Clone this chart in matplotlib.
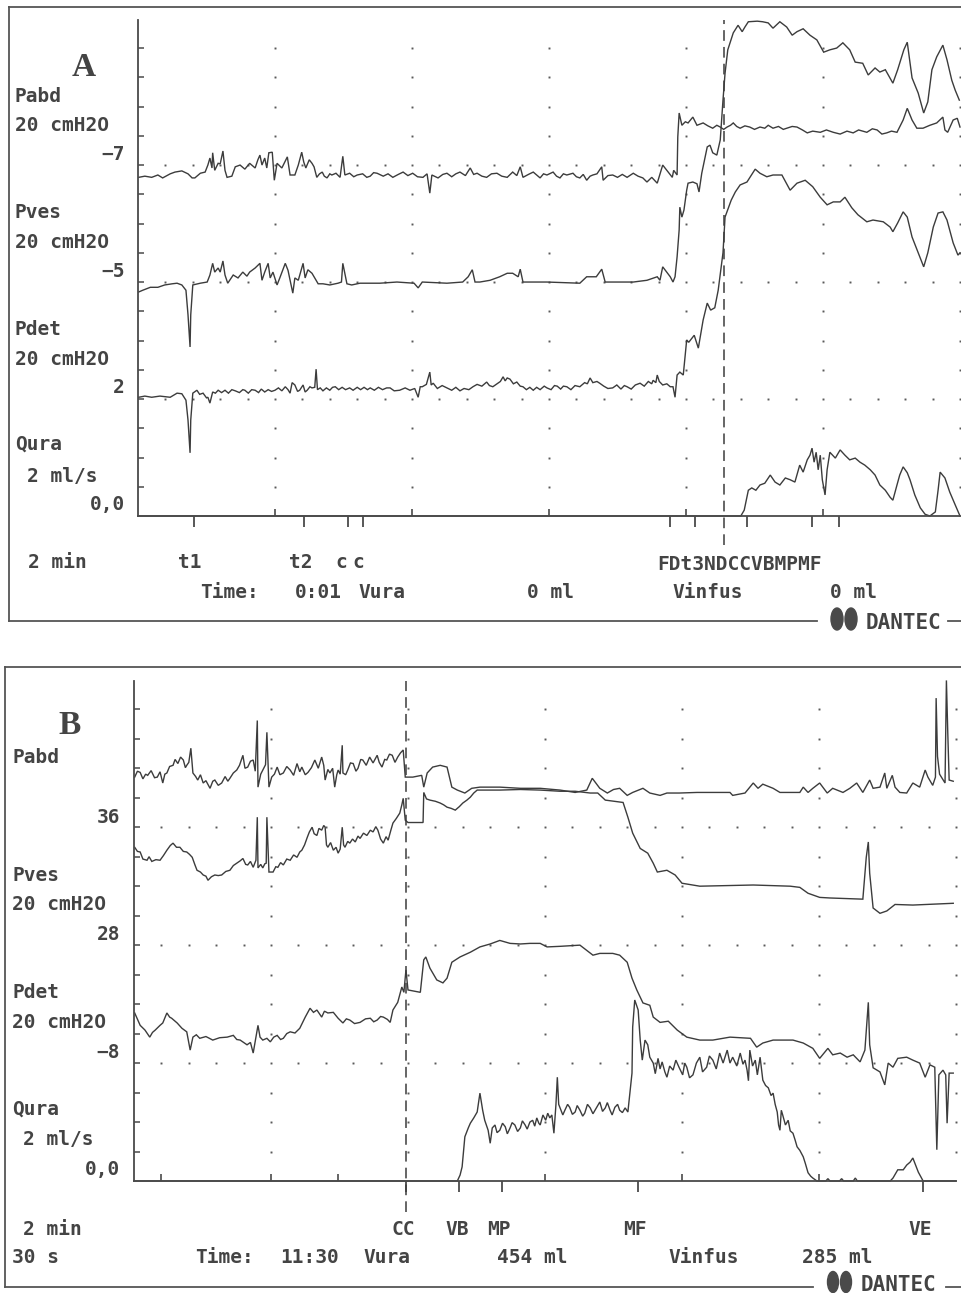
import numpy as np
import matplotlib.pyplot as plt
from matplotlib.lines import Line2D
from matplotlib.patches import Ellipse

plt.rcParams['font.family'] = ['DejaVu Sans Mono']

INK = '#3c3c3c'
TXT = '#444444'
W, H = 962, 1293

# ---------------- data, panel A (time in min, pressure cmH2O, flow ml/s)
a_pabd = [
    (0.01, -9.1), (0.10, -8.9), (0.20, -9.1), (0.29, -8.7), (0.36, -9.2), (0.47, -8.5),
    (0.54, -8.2), (0.64, -8.0), (0.73, -8.5), (0.79, -9.2), (0.83, -9.2), (0.91, -8.4),
    (0.98, -8.2), (1.02, -7.0), (1.05, -5.8), (1.08, -7.5), (1.09, -4.9), (1.12, -7.9),
    (1.17, -6.7), (1.20, -6.8), (1.24, -4.6), (1.27, -7.9), (1.30, -9.1), (1.37, -8.9),
    (1.42, -7.3), (1.49, -7.0), (1.56, -7.7), (1.63, -6.7), (1.71, -7.5), (1.75, -6.1),
    (1.78, -5.3), (1.81, -7.0), (1.85, -5.8), (1.88, -7.5), (1.91, -4.9), (1.96, -4.8),
    (1.99, -9.6), (2.03, -6.7), (2.10, -7.5), (2.18, -5.6), (2.22, -8.7), (2.29, -8.7),
    (2.34, -7.0), (2.39, -4.8), (2.42, -6.5), (2.45, -7.5), (2.50, -6.1), (2.54, -6.7),
    (2.57, -7.3), (2.61, -9.1), (2.65, -8.5), (2.69, -8.2), (2.72, -8.9), (2.76, -9.2),
    (2.80, -8.5), (2.83, -8.7), (2.89, -8.4), (2.95, -9.1), (2.99, -5.5), (3.02, -8.7),
    (3.09, -8.4), (3.15, -9.0), (3.20, -8.7), (3.28, -8.5), (3.34, -9.1), (3.39, -8.9),
    (3.44, -8.3), (3.49, -8.4), (3.58, -8.9), (3.65, -8.5), (3.72, -9.1), (3.80, -8.6),
    (3.87, -8.2), (3.94, -8.8), (4.01, -8.4), (4.08, -9.0), (4.16, -9.1), (4.22, -8.5),
    (4.26, -11.8), (4.29, -8.7), (4.38, -9.2), (4.45, -8.6), (4.51, -8.4), (4.58, -9.0),
    (4.64, -8.5), (4.70, -8.2), (4.78, -8.8), (4.85, -7.5), (4.90, -8.6), (4.95, -8.4),
    (5.02, -8.9), (5.09, -9.1), (5.16, -8.5), (5.24, -8.4), (5.31, -8.9), (5.39, -9.1),
    (5.47, -8.2), (5.53, -8.8), (5.58, -7.3), (5.62, -9.1), (5.70, -8.6), (5.77, -8.2),
    (5.87, -9.2), (5.92, -8.5), (5.97, -8.7), (6.06, -8.2), (6.11, -8.9), (6.16, -9.2),
    (6.21, -8.5), (6.26, -8.7), (6.35, -8.4), (6.40, -9.0), (6.45, -9.2), (6.50, -8.6),
    (6.55, -9.6), (6.60, -8.9), (6.64, -8.7), (6.70, -8.5), (6.77, -7.3), (6.79, -9.6),
    (6.86, -8.8), (6.93, -8.7), (7.00, -9.1), (7.07, -8.6), (7.14, -9.1), (7.23, -8.4),
    (7.30, -8.9), (7.37, -9.2), (7.43, -9.9), (7.50, -9.1), (7.58, -10.1), (7.66, -7.0),
    (7.72, -7.9), (7.80, -9.1), (7.82, -7.9), (7.87, -8.7), (7.88, -2.2), (7.90, 1.9),
    (7.94, -0.2), (7.99, 0.4), (8.03, 0.2), (8.10, 1.2), (8.16, -0.2), (8.25, 0.2),
    (8.32, -0.3), (8.39, -0.7), (8.45, -0.2), (8.50, -0.5), (8.55, -0.9), (8.60, -0.5),
    (8.65, -0.2), (8.69, 0.2), (8.74, -0.4), (8.79, -0.7), (8.86, -0.3), (8.93, -0.5),
    (9.00, -0.9), (9.08, -0.5), (9.15, -0.7), (9.20, -0.2), (9.27, -0.7), (9.35, -0.4),
    (9.42, -0.9), (9.47, -0.7), (9.55, -0.4), (9.62, -0.5), (9.70, -1.0), (9.77, -1.5),
    (9.85, -1.2), (9.96, -1.4), (10.05, -1.0), (10.15, -1.4), (10.25, -1.7), (10.35, -1.2),
    (10.44, -1.5), (10.52, -1.0), (10.64, -1.4), (10.72, -0.8), (10.79, -1.0), (10.86, -1.7),
    (10.93, -1.5), (11.00, -1.2), (11.08, -1.4), (11.17, 0.7), (11.23, 2.7), (11.30, 0.7),
    (11.37, -0.7), (11.46, -0.7), (11.56, -0.2), (11.66, 0.2), (11.75, 1.2), (11.78, -1.0),
    (11.82, -1.4), (11.90, 0.7), (11.96, 1.0), (12.00, -0.5),
]

a_pves = [
    (0.01, -6.7), (0.07, -6.4), (0.18, -5.9), (0.29, -5.9), (0.39, -5.5), (0.50, -5.3),
    (0.57, -5.2), (0.64, -5.5), (0.70, -6.4), (0.73, -10.6), (0.76, -16.1), (0.77, -10.6),
    (0.80, -5.5), (0.91, -5.2), (1.01, -5.0), (1.05, -3.8), (1.09, -1.8), (1.12, -3.3),
    (1.17, -2.6), (1.20, -3.3), (1.24, -1.4), (1.27, -3.8), (1.31, -5.2), (1.39, -3.8),
    (1.46, -4.3), (1.53, -3.3), (1.59, -4.0), (1.63, -3.3), (1.71, -2.6), (1.78, -1.8),
    (1.81, -4.7), (1.85, -3.3), (1.90, -1.8), (1.93, -4.3), (1.97, -3.3), (2.03, -5.5),
    (2.07, -4.3), (2.15, -1.8), (2.19, -3.0), (2.26, -6.9), (2.29, -4.3), (2.34, -4.7),
    (2.41, -1.8), (2.44, -4.3), (2.48, -2.9), (2.54, -3.5), (2.58, -4.3), (2.63, -5.3),
    (2.70, -5.3), (2.80, -5.5), (2.92, -5.2), (2.97, -5.0), (2.99, -1.8), (3.05, -5.3),
    (3.12, -5.5), (3.24, -5.2), (3.53, -5.2), (3.78, -5.0), (4.03, -5.2), (4.09, -6.0),
    (4.15, -5.0), (4.51, -5.2), (4.74, -5.0), (4.82, -4.1), (4.88, -2.9), (4.92, -5.0),
    (4.99, -5.0), (5.14, -4.7), (5.28, -4.1), (5.39, -3.5), (5.47, -3.5), (5.55, -4.1),
    (5.58, -2.8), (5.62, -5.0), (5.82, -5.0), (5.97, -5.0), (6.45, -5.2), (6.55, -4.1),
    (6.69, -4.1), (6.77, -2.8), (6.82, -5.0), (7.04, -5.0), (7.23, -5.0), (7.43, -4.7),
    (7.58, -4.1), (7.62, -4.7), (7.66, -2.4), (7.77, -4.1), (7.81, -5.0), (7.84, -4.1),
    (7.87, -0.7), (7.90, 3.9), (7.91, 7.8), (7.94, 6.1), (7.97, 7.3), (8.01, 10.7),
    (8.03, 11.9), (8.10, 12.1), (8.16, 11.8), (8.19, 10.4), (8.23, 13.6), (8.31, 18.1),
    (8.35, 18.4), (8.39, 17.1), (8.45, 16.7), (8.50, 19.3), (8.54, 26.1), (8.57, 30.7),
    (8.61, 34.7), (8.69, 37.6), (8.76, 38.9), (8.82, 37.8), (8.86, 38.6), (8.91, 39.5),
    (9.04, 39.6), (9.12, 39.5), (9.20, 39.3), (9.27, 38.4), (9.37, 39.5), (9.47, 38.6),
    (9.55, 37.2), (9.62, 37.8), (9.71, 38.3), (9.81, 37.2), (9.91, 36.4), (10.01, 34.3),
    (10.10, 34.7), (10.20, 35.0), (10.29, 35.9), (10.39, 34.7), (10.47, 32.6), (10.58, 32.4),
    (10.66, 30.4), (10.76, 31.6), (10.83, 30.9), (10.91, 31.3), (11.02, 29.0), (11.09, 31.3),
    (11.18, 34.7), (11.23, 36.0), (11.30, 29.9), (11.39, 27.3), (11.47, 23.9), (11.53, 25.8),
    (11.59, 31.3), (11.66, 33.5), (11.75, 35.5), (11.81, 33.0), (11.88, 29.5), (11.93, 27.8),
    (11.99, 26.1),
]

a_pdet = [
    (0.01, 2.3), (0.10, 2.5), (0.20, 2.3), (0.32, 2.5), (0.47, 2.3), (0.57, 3.0),
    (0.64, 2.9), (0.70, 1.8), (0.73, -1.6), (0.76, -7.2), (0.77, -1.6), (0.80, 3.0),
    (0.86, 3.5), (0.90, 2.8), (0.95, 3.0), (1.00, 2.2), (1.02, 2.3), (1.05, 1.3),
    (1.09, 3.2), (1.13, 3.0), (1.17, 3.5), (1.22, 3.1), (1.27, 3.5), (1.32, 3.0),
    (1.37, 3.6), (1.42, 3.4), (1.48, 3.1), (1.53, 3.6), (1.56, 3.5), (1.61, 3.0),
    (1.66, 3.6), (1.71, 3.5), (1.76, 3.1), (1.80, 3.7), (1.85, 3.2), (1.90, 3.6),
    (1.95, 3.3), (2.00, 3.5), (2.05, 3.9), (2.10, 3.4), (2.15, 4.1), (2.19, 3.6),
    (2.22, 3.0), (2.25, 4.8), (2.29, 4.4), (2.33, 3.3), (2.36, 3.5), (2.41, 4.4),
    (2.44, 3.2), (2.47, 3.5), (2.51, 4.1), (2.54, 3.9), (2.58, 4.0), (2.60, 7.1),
    (2.62, 3.6), (2.66, 3.9), (2.70, 3.4), (2.75, 3.9), (2.80, 3.5), (2.84, 4.0),
    (2.88, 4.1), (2.93, 3.6), (2.98, 4.0), (3.03, 3.6), (3.09, 3.9), (3.14, 3.5),
    (3.20, 4.0), (3.25, 3.6), (3.30, 4.0), (3.35, 3.6), (3.39, 3.9), (3.45, 3.5),
    (3.51, 4.0), (3.57, 3.6), (3.63, 3.9), (3.68, 3.9), (3.74, 3.4), (3.82, 3.5),
    (3.90, 3.9), (3.97, 3.5), (4.04, 3.8), (4.09, 2.3), (4.12, 4.1), (4.15, 4.1),
    (4.21, 4.5), (4.26, 6.6), (4.28, 4.4), (4.31, 4.7), (4.37, 3.8), (4.44, 4.3),
    (4.51, 3.9), (4.58, 3.5), (4.64, 4.0), (4.70, 3.4), (4.76, 3.8), (4.83, 3.6),
    (4.89, 4.1), (4.95, 4.5), (5.02, 4.2), (5.09, 4.9), (5.13, 4.3), (5.18, 4.1),
    (5.24, 4.6), (5.29, 5.0), (5.33, 5.8), (5.36, 5.1), (5.39, 5.6), (5.43, 5.4),
    (5.48, 4.6), (5.53, 4.9), (5.58, 4.2), (5.62, 4.1), (5.67, 3.6), (5.72, 4.0),
    (5.77, 3.5), (5.82, 4.0), (5.87, 3.6), (5.93, 4.2), (5.97, 3.9), (6.03, 3.6),
    (6.08, 4.3), (6.12, 4.2), (6.17, 3.7), (6.21, 4.2), (6.26, 4.1), (6.32, 3.6),
    (6.38, 4.3), (6.45, 4.1), (6.52, 4.8), (6.56, 4.6), (6.60, 5.6), (6.64, 4.8),
    (6.70, 5.0), (6.74, 4.7), (6.80, 4.2), (6.86, 3.8), (6.93, 3.9), (6.99, 4.4),
    (7.05, 3.7), (7.10, 4.3), (7.14, 4.1), (7.20, 3.7), (7.26, 4.4), (7.33, 4.7),
    (7.39, 4.2), (7.45, 5.0), (7.50, 4.6), (7.52, 5.2), (7.56, 4.8), (7.58, 6.1),
    (7.61, 5.0), (7.66, 4.4), (7.72, 4.6), (7.77, 4.1), (7.81, 4.1), (7.84, 2.3),
    (7.87, 6.1), (7.91, 6.6), (7.96, 6.1), (8.01, 12.1), (8.04, 11.7), (8.12, 12.9),
    (8.18, 10.7), (8.25, 15.5), (8.31, 18.4), (8.36, 17.2), (8.42, 17.6), (8.47, 20.6),
    (8.54, 27.0), (8.57, 33.1), (8.66, 36.0), (8.72, 37.4), (8.79, 38.6), (8.89, 39.1),
    (9.01, 41.3), (9.08, 40.6), (9.18, 40.0), (9.27, 40.3), (9.40, 40.3), (9.52, 37.7),
    (9.62, 38.9), (9.74, 39.4), (9.85, 38.3), (9.96, 36.5), (10.06, 35.2), (10.15, 35.7),
    (10.25, 35.7), (10.32, 36.5), (10.42, 34.7), (10.51, 33.5), (10.64, 32.3), (10.73, 32.6),
    (10.88, 32.3), (10.98, 31.4), (11.02, 30.6), (11.09, 32.1), (11.17, 34.0), (11.23, 33.1),
    (11.30, 29.7), (11.39, 27.0), (11.47, 24.6), (11.53, 27.0), (11.61, 31.4), (11.68, 33.8),
    (11.75, 34.0), (11.81, 32.6), (11.90, 28.7), (11.97, 26.6), (12.00, 27.0),
]

a_qura = [
    (0.00, 0.0), (8.80, 0.0), (8.85, 0.10), (8.91, 0.44), (8.96, 0.48), (9.02, 0.44),
    (9.08, 0.53), (9.15, 0.56), (9.23, 0.70), (9.30, 0.58), (9.37, 0.53), (9.45, 0.65),
    (9.52, 0.62), (9.59, 0.58), (9.66, 0.87), (9.71, 0.75), (9.77, 0.96), (9.81, 1.04),
    (9.84, 1.16), (9.87, 0.92), (9.90, 1.09), (9.93, 0.79), (9.96, 1.04), (9.99, 0.62),
    (10.03, 0.36), (10.06, 0.79), (10.10, 1.09), (10.18, 0.99), (10.25, 1.13), (10.32, 1.04),
    (10.39, 0.96), (10.47, 0.99), (10.54, 0.92), (10.61, 0.87), (10.69, 0.79), (10.76, 0.70),
    (10.83, 0.53), (10.91, 0.44), (10.98, 0.32), (11.02, 0.27), (11.08, 0.53), (11.12, 0.70),
    (11.17, 0.84), (11.23, 0.74), (11.27, 0.62), (11.34, 0.36), (11.42, 0.14), (11.49, 0.03),
    (11.56, 0.0), (11.64, 0.07), (11.68, 0.44), (11.71, 0.75), (11.78, 0.65), (11.85, 0.41),
    (11.93, 0.19), (12.00, 0.0),
]

# ---------------- data, panel B
b_pabd = [
    (0.01, 44.5), (0.05, 45.5), (0.09, 45.3), (0.13, 44.2), (0.17, 45.0), (0.20, 44.8),
    (0.25, 45.6), (0.30, 44.4), (0.34, 44.5), (0.38, 45.4), (0.42, 43.5), (0.45, 45.0),
    (0.48, 45.2), (0.52, 46.3), (0.57, 46.5), (0.60, 47.5), (0.64, 46.8), (0.68, 47.9),
    (0.72, 47.4), (0.75, 46.1), (0.77, 46.5), (0.80, 47.0), (0.83, 49.4), (0.86, 45.2),
    (0.90, 44.6), (0.93, 44.0), (0.97, 44.9), (1.01, 43.5), (1.05, 43.9), (1.11, 42.6),
    (1.15, 43.8), (1.18, 44.0), (1.23, 43.1), (1.28, 43.5), (1.33, 44.6), (1.37, 43.8),
    (1.40, 44.3), (1.45, 45.2), (1.50, 45.7), (1.54, 46.5), (1.59, 48.2), (1.62, 46.0),
    (1.66, 46.2), (1.70, 47.2), (1.74, 47.4), (1.77, 45.5), (1.80, 54.1), (1.81, 42.8),
    (1.85, 45.0), (1.88, 45.7), (1.92, 46.6), (1.94, 52.1), (1.97, 42.8), (2.01, 44.5),
    (2.05, 45.0), (2.09, 46.2), (2.13, 44.9), (2.18, 45.2), (2.23, 46.3), (2.28, 45.7),
    (2.33, 44.8), (2.38, 46.8), (2.42, 45.4), (2.45, 46.2), (2.50, 44.9), (2.54, 45.3),
    (2.59, 46.1), (2.64, 47.4), (2.69, 46.0), (2.74, 47.9), (2.77, 46.5), (2.79, 44.0),
    (2.83, 45.8), (2.86, 45.2), (2.90, 46.0), (2.93, 42.8), (2.96, 44.9), (2.98, 45.7),
    (3.01, 45.0), (3.04, 49.9), (3.05, 45.2), (3.09, 44.9), (3.12, 45.7), (3.16, 46.9),
    (3.20, 46.8), (3.24, 45.5), (3.27, 46.0), (3.31, 47.5), (3.34, 47.4), (3.39, 46.5),
    (3.44, 47.9), (3.49, 46.9), (3.55, 48.2), (3.58, 47.0), (3.62, 46.2), (3.66, 47.5),
    (3.69, 47.4), (3.73, 48.4), (3.77, 48.2), (3.81, 47.0), (3.85, 47.9), (3.89, 48.6),
    (3.93, 49.1), (3.96, 44.5), (4.07, 44.5), (4.20, 44.8), (4.23, 42.8), (4.28, 45.2),
    (4.36, 46.2), (4.47, 46.5), (4.57, 46.2), (4.64, 42.8), (4.72, 42.3), (4.83, 41.8),
    (4.93, 42.6), (5.05, 42.8), (5.34, 42.8), (5.64, 42.6), (5.93, 42.6), (6.22, 42.3),
    (6.44, 41.9), (6.61, 42.3), (6.69, 44.3), (6.80, 42.6), (6.91, 41.8), (7.00, 42.4),
    (7.09, 42.6), (7.20, 41.4), (7.28, 41.9), (7.43, 42.6), (7.53, 41.8), (7.68, 41.4),
    (7.78, 41.8), (7.96, 41.8), (8.22, 41.9), (8.45, 41.9), (8.70, 41.9), (8.74, 41.4),
    (8.92, 41.8), (9.04, 43.5), (9.11, 42.6), (9.18, 43.3), (9.33, 42.6), (9.43, 41.9),
    (9.72, 41.9), (9.77, 42.8), (9.84, 41.9), (9.91, 42.6), (10.01, 43.5), (10.12, 41.8),
    (10.20, 42.6), (10.35, 41.9), (10.45, 42.6), (10.55, 43.5), (10.64, 41.9), (10.74, 44.0),
    (10.79, 42.6), (10.89, 42.8), (10.96, 45.2), (10.99, 42.6), (11.07, 44.8), (11.11, 42.8),
    (11.18, 41.9), (11.28, 41.8), (11.37, 43.5), (11.47, 42.8), (11.55, 45.7), (11.59, 44.5),
    (11.66, 43.1), (11.70, 44.5), (11.71, 57.9), (11.73, 48.0), (11.76, 45.0), (11.84, 43.5),
    (11.86, 60.9), (11.88, 52.0), (11.90, 44.0), (11.96, 43.8),
]

b_pves = [
    (0.01, 44.6), (0.05, 43.9), (0.09, 43.8), (0.13, 42.6), (0.19, 42.4), (0.22, 43.0),
    (0.26, 42.2), (0.32, 42.5), (0.38, 42.4), (0.43, 43.2), (0.48, 44.1), (0.53, 44.9),
    (0.57, 45.3), (0.62, 44.6), (0.67, 44.6), (0.72, 43.9), (0.77, 43.8), (0.81, 43.4),
    (0.85, 42.9), (0.89, 41.6), (0.92, 40.7), (0.97, 40.4), (1.01, 39.9), (1.05, 39.7),
    (1.08, 39.0), (1.13, 39.6), (1.18, 39.9), (1.23, 39.8), (1.28, 39.9), (1.34, 40.5),
    (1.40, 40.7), (1.45, 41.5), (1.50, 41.9), (1.55, 42.3), (1.59, 42.7), (1.63, 41.7),
    (1.66, 41.6), (1.70, 42.2), (1.74, 41.2), (1.78, 42.4), (1.80, 49.7), (1.81, 41.1),
    (1.85, 41.7), (1.88, 41.1), (1.91, 41.8), (1.93, 41.9), (1.94, 49.7), (1.97, 40.4),
    (2.03, 40.4), (2.07, 41.3), (2.10, 41.2), (2.14, 42.0), (2.18, 41.6), (2.23, 42.6),
    (2.28, 42.4), (2.33, 43.3), (2.38, 42.9), (2.42, 43.8), (2.45, 44.1), (2.49, 45.0),
    (2.53, 46.3), (2.56, 47.2), (2.60, 48.0), (2.63, 46.9), (2.67, 46.6), (2.70, 47.8),
    (2.74, 47.5), (2.77, 48.3), (2.79, 48.0), (2.81, 45.0), (2.83, 44.6), (2.87, 45.4),
    (2.91, 44.1), (2.95, 44.6), (2.98, 43.6), (3.01, 44.3), (3.04, 48.0), (3.06, 45.0),
    (3.08, 44.6), (3.12, 45.6), (3.15, 45.3), (3.19, 46.0), (3.23, 45.5), (3.27, 46.5),
    (3.30, 46.1), (3.35, 47.0), (3.40, 46.6), (3.45, 47.5), (3.49, 47.2), (3.53, 48.1),
    (3.56, 47.5), (3.60, 46.0), (3.64, 45.3), (3.68, 46.4), (3.71, 45.8), (3.75, 47.5),
    (3.78, 48.7), (3.83, 49.5), (3.88, 50.4), (3.91, 51.8), (3.93, 52.9), (3.96, 49.2),
    (4.00, 48.8), (4.22, 48.8), (4.23, 53.9), (4.27, 52.8), (4.32, 52.6), (4.40, 52.4),
    (4.47, 52.1), (4.52, 51.8), (4.57, 51.4), (4.63, 51.2), (4.69, 50.9), (4.75, 51.5),
    (4.80, 52.1), (4.86, 52.6), (4.91, 53.1), (4.96, 53.8), (5.01, 54.3), (5.12, 54.3),
    (5.34, 54.3), (5.64, 54.4), (5.93, 54.3), (6.22, 54.1), (6.44, 54.1), (6.66, 53.8),
    (6.77, 53.8), (6.88, 52.6), (7.14, 52.2), (7.21, 49.7), (7.28, 47.0), (7.39, 44.4),
    (7.50, 43.6), (7.58, 41.9), (7.64, 40.4), (7.78, 40.7), (7.90, 39.9), (8.00, 38.5),
    (8.26, 38.0), (9.04, 38.2), (9.58, 38.0), (9.72, 37.8), (9.84, 36.8), (10.01, 36.1),
    (10.16, 36.0), (10.64, 35.8), (10.69, 42.9), (10.72, 45.5), (10.74, 40.2), (10.79, 34.3),
    (10.89, 33.4), (10.99, 33.8), (11.11, 34.9), (11.37, 34.8), (11.96, 35.1),
]

b_pdet = [
    (0.01, 0.5), (0.09, -1.6), (0.16, -2.4), (0.23, -3.6), (0.27, -2.8), (0.31, -2.4),
    (0.38, -1.6), (0.42, -1.2), (0.48, 0.5), (0.52, -0.2), (0.55, -0.4), (0.63, -1.2),
    (0.70, -2.1), (0.77, -2.7), (0.82, -5.8), (0.86, -3.6), (0.91, -3.2), (0.96, -3.8),
    (1.05, -3.5), (1.15, -4.1), (1.25, -3.7), (1.36, -3.6), (1.45, -3.3), (1.50, -4.0),
    (1.55, -4.1), (1.65, -4.9), (1.70, -4.5), (1.74, -6.3), (1.81, -1.6), (1.84, -3.6),
    (1.88, -4.1), (1.94, -3.8), (1.99, -4.4), (2.04, -3.6), (2.09, -3.3), (2.14, -4.0),
    (2.18, -3.8), (2.23, -3.0), (2.28, -2.7), (2.35, -2.9), (2.42, -2.1), (2.50, -0.2),
    (2.57, 1.3), (2.62, 0.6), (2.67, 1.0), (2.74, -0.2), (2.78, 0.8), (2.83, 0.5),
    (2.91, 0.6), (2.98, -0.4), (3.05, -1.2), (3.10, -0.5), (3.15, -0.7), (3.22, -1.3),
    (3.30, -1.1), (3.38, -0.5), (3.45, -0.4), (3.50, -1.0), (3.55, -0.7), (3.60, -0.1),
    (3.64, -0.2), (3.70, -0.6), (3.74, -1.1), (3.78, 1.0), (3.85, 2.3), (3.91, 4.9),
    (3.94, 4.0), (3.97, 7.8), (4.00, 4.4), (4.18, 4.0), (4.23, 9.5), (4.26, 10.0),
    (4.32, 8.1), (4.42, 6.1), (4.51, 5.6), (4.57, 6.4), (4.64, 9.1), (4.76, 10.0),
    (4.91, 10.8), (5.05, 11.7), (5.20, 12.2), (5.34, 12.8), (5.49, 12.3), (5.64, 12.2),
    (5.78, 12.3), (5.93, 12.3), (6.03, 11.7), (6.22, 11.8), (6.51, 12.0), (6.70, 10.3),
    (6.80, 10.6), (6.99, 10.6), (7.09, 10.3), (7.20, 9.1), (7.27, 6.4), (7.34, 4.4),
    (7.43, 2.2), (7.53, 1.8), (7.58, -0.2), (7.68, -1.1), (7.80, -0.9), (7.93, -2.4),
    (8.07, -3.6), (8.26, -4.1), (8.45, -4.1), (8.70, -3.6), (9.00, -3.8), (9.09, -5.3),
    (9.18, -4.6), (9.33, -4.1), (9.62, -4.1), (9.77, -4.6), (9.91, -5.5), (10.01, -7.2),
    (10.13, -5.5), (10.20, -6.6), (10.31, -6.3), (10.41, -7.0), (10.50, -6.6), (10.60, -7.8),
    (10.67, -5.8), (10.72, 2.3), (10.74, -4.9), (10.79, -8.8), (10.89, -9.5), (10.96, -11.7),
    (11.01, -8.0), (11.08, -8.7), (11.15, -7.2), (11.28, -7.0), (11.37, -7.5), (11.47, -8.0),
    (11.55, -10.4), (11.62, -8.3), (11.69, -8.7), (11.72, -22.7), (11.75, -10.0), (11.81, -9.2),
    (11.85, -10.0), (11.87, -18.2), (11.90, -9.7), (11.96, -9.7),
]

b_qura = [
    (0.00, 0.0), (4.72, 0.0), (4.76, 0.10), (4.79, 0.24), (4.83, 0.75), (4.88, 0.90),
    (4.91, 0.98), (4.96, 1.07), (5.01, 1.17), (5.05, 1.49), (5.09, 1.20), (5.12, 1.03),
    (5.17, 0.86), (5.20, 0.64), (5.23, 0.90), (5.27, 0.95), (5.30, 0.82), (5.34, 0.86),
    (5.38, 0.98), (5.42, 0.92), (5.45, 0.80), (5.49, 0.90), (5.52, 0.99), (5.56, 0.95),
    (5.60, 0.84), (5.64, 0.90), (5.67, 1.02), (5.71, 0.95), (5.74, 0.88), (5.78, 1.00),
    (5.82, 1.03), (5.85, 0.93), (5.88, 1.07), (5.91, 0.98), (5.93, 0.95), (5.97, 1.12),
    (6.01, 1.03), (6.04, 1.15), (6.07, 1.07), (6.10, 1.12), (6.13, 0.81), (6.16, 1.30),
    (6.18, 1.76), (6.20, 1.30), (6.22, 1.24), (6.26, 1.12), (6.29, 1.20), (6.33, 1.30),
    (6.36, 1.25), (6.40, 1.13), (6.44, 1.17), (6.47, 1.28), (6.51, 1.20), (6.55, 1.10),
    (6.58, 1.15), (6.62, 1.30), (6.66, 1.24), (6.70, 1.14), (6.73, 1.20), (6.77, 1.28),
    (6.80, 1.34), (6.84, 1.18), (6.88, 1.24), (6.91, 1.33), (6.95, 1.20), (6.98, 1.12),
    (7.02, 1.25), (7.06, 1.30), (7.09, 1.20), (7.13, 1.16), (7.17, 1.24), (7.21, 1.17),
    (7.27, 1.83), (7.28, 2.61), (7.31, 3.07), (7.36, 2.90), (7.39, 2.39), (7.42, 2.05),
    (7.46, 2.39), (7.50, 2.31), (7.53, 2.10), (7.58, 2.00), (7.61, 1.82), (7.65, 2.08),
    (7.68, 1.90), (7.71, 2.02), (7.75, 1.85), (7.78, 1.76), (7.82, 1.95), (7.87, 1.88),
    (7.91, 2.05), (7.96, 1.92), (8.01, 1.80), (8.04, 2.00), (8.07, 1.93), (8.11, 1.75),
    (8.16, 1.80), (8.21, 2.00), (8.26, 2.10), (8.30, 1.85), (8.36, 1.93), (8.40, 2.12),
    (8.45, 2.05), (8.50, 1.90), (8.55, 2.17), (8.60, 2.00), (8.66, 2.22), (8.70, 2.00),
    (8.74, 2.10), (8.80, 1.95), (8.85, 2.17), (8.89, 1.98), (8.92, 2.05), (8.95, 1.88),
    (8.97, 1.70), (8.99, 2.22), (9.03, 1.95), (9.07, 2.05), (9.10, 1.80), (9.14, 2.10),
    (9.16, 1.90), (9.18, 1.71), (9.22, 1.62), (9.26, 1.58), (9.30, 1.45), (9.33, 1.49),
    (9.36, 1.30), (9.39, 1.17), (9.41, 0.95), (9.43, 0.86), (9.45, 1.20), (9.47, 1.12),
    (9.51, 0.95), (9.55, 1.03), (9.58, 0.85), (9.62, 0.81), (9.65, 0.70), (9.68, 0.58),
    (9.72, 0.52), (9.77, 0.41), (9.80, 0.30), (9.84, 0.14), (9.88, 0.08), (9.91, 0.05),
    (9.97, 0.0), (10.10, 0.0), (10.13, 0.04), (10.16, 0.0), (10.30, 0.0), (10.33, 0.04),
    (10.36, 0.0), (10.50, 0.0), (10.53, 0.05), (10.56, 0.0), (11.04, 0.0), (11.08, 0.05),
    (11.15, 0.19), (11.23, 0.19), (11.28, 0.27), (11.33, 0.32), (11.37, 0.39), (11.45, 0.15),
    (11.52, 0.0), (12.00, 0.0),
]

channels = ['Pabd', 'Pves', 'Pdet', 'Qura']
scales = [20, 20, 20, 2]            # units per large division
a_base_values = [-7, -5, 2, 0.0]
b_base_values = [36, 28, -8, 0.0]
a_base_labels = ['\u22127', '\u22125', '2', '0,0']
b_base_labels = ['36', '28', '\u22128', '0,0']

a_col_ticks = [2, 4, 6, 8, 10]
a_event_ticks = [0.82, 2.42, 3.07, 3.28, 7.77, 8.00, 8.13, 8.89, 9.84, 10.23]
a_cursor = 8.55
b_col_ticks = [0.39, 2, 2.98, 6, 8, 10]
b_event_ticks = [3.97, 4.74, 5.37, 7.36, 11.52]
b_cursor = 3.97

YTOP = 4.24


def inch(x, y):
    return x / 100, (H - y) / 100


def box(x0, y0, x1, y1):
    return [x0 / W, 1 - y1 / H, (x1 - x0) / W, (y1 - y0) / H]


def put(x, y, s, ha='left', size=14, weight='bold', **kw):
    fig.text(*inch(x, y), s, transform=fig.dpi_scale_trans, ha=ha, va='baseline',
             fontsize=size, color=TXT, weight=weight, **kw)


def hline(x0, y0, x1, y1, lw=1.3):
    fig.add_artist(Line2D([x0 / 100, x1 / 100], [(H - y0) / 100, (H - y1) / 100],
                          transform=fig.dpi_scale_trans, color='#555555', lw=lw))


def setup(ax, col_ticks, event_ticks):
    ax.set_xlim(0, 12)
    ax.set_ylim(0, YTOP)
    for s in ['top', 'right']:
        ax.spines[s].set_visible(False)
    for s in ['left', 'bottom']:
        ax.spines[s].set_color('#4a4a4a')
        ax.spines[s].set_linewidth(1.3)
    ax.set_xticks(col_ticks)
    ax.set_xticks(event_ticks, minor=True)
    ax.set_yticks(np.arange(0.25, 4.01, 0.25))
    ax.tick_params(axis='x', which='major', direction='in', length=5, width=1.2,
                   color='#4a4a4a', labelbottom=False)
    ax.tick_params(axis='x', which='minor', direction='out', length=8, width=1.3,
                   color='#4a4a4a')
    ax.tick_params(axis='y', direction='in', length=4, width=1.1, color='#4a4a4a',
                   labelleft=False)
    # dotted grid
    for k in range(1, 17):
        y = k * 0.25
        if k % 4 == 0 and k < 16:
            xs = np.arange(0.4, 12.01, 0.4)
        else:
            xs = np.arange(2, 12.01, 2)
        ax.plot(xs, np.full(len(xs), y), ls='none', marker='s', ms=1.4, mew=0,
                color='#5a5a5a', clip_on=False)


def traces(ax, series, bases):
    for lvl, (data, base, sc) in enumerate(zip(series, bases, scales)):
        t, v = np.array(data).T
        y = (3 - lvl) + (v - base) / sc
        ax.plot(t, y, color=INK, lw=1.0, clip_on=False, solid_joinstyle='miter')


fig = plt.figure(figsize=(W / 100, H / 100), dpi=100)

# ---------------- panel A
axA = fig.add_axes(box(138, 20, 960, 516))
setup(axA, a_col_ticks, a_event_ticks)
traces(axA, [a_pabd, a_pves, a_pdet, a_qura], a_base_values)
axA.plot([a_cursor, a_cursor], [-0.25, YTOP], color=INK, lw=1.1, ls=(0, (7, 4)), clip_on=False)

hline(9, 7, 962, 7)
hline(9, 7, 9, 621)
hline(9, 621, 817, 621)
hline(948, 621, 962, 621)

put(72, 76, 'A', size=24, family='Liberation Serif')
a_label_rows = [(102, 131, 160), (218, 248, 277), (335, 365, 393)]
for name, (yn, ys, yv), lab in zip(channels[:3], a_label_rows, a_base_labels):
    put(15, yn, name)
    put(15, ys, '20 cmH2O')
    put(125, yv, lab, ha='right')
put(15, 450, 'Qura')
put(27, 482, '2 ml/s')
put(125, 510, a_base_labels[3], ha='right')
put(28, 568, '2 min')
put(190, 568, 't1', ha='center')
put(301, 568, 't2', ha='center')
put(341, 568, 'c', ha='center')
put(358, 568, 'c', ha='center')
put(657, 570, 'FDt3NDCCVBMPMF')
put(200, 598, 'Time:')
put(295, 598, '0:01')
put(358, 598, 'Vura')
put(527, 598, '0 ml')
put(672, 598, 'Vinfus')
put(830, 598, '0 ml')
for cx in (837, 851):
    fig.add_artist(Ellipse(inch(cx, 619), 0.12, 0.22, transform=fig.dpi_scale_trans,
                           color='#4a4a4a'))
put(866, 629, 'DANTEC', size=15)

# ---------------- panel B
axB = fig.add_axes(box(134, 681, 956, 1181))
setup(axB, b_col_ticks, b_event_ticks)
traces(axB, [b_pabd, b_pves, b_pdet, b_qura], b_base_values)
axB.plot([b_cursor, b_cursor], [-0.26, YTOP], color=INK, lw=1.1, ls=(0, (7, 4)), clip_on=False)

hline(5, 667, 962, 667)
hline(5, 667, 5, 1287)
hline(5, 1287, 813, 1287)
hline(946, 1287, 962, 1287)

put(58, 734, 'B', size=24, family='Liberation Serif')
put(12, 763, 'Pabd')
put(120, 823, b_base_labels[0], ha='right')
put(12, 881, 'Pves')
put(12, 910, '20 cmH2O')
put(120, 940, b_base_labels[1], ha='right')
put(12, 998, 'Pdet')
put(12, 1028, '20 cmH2O')
put(120, 1058, b_base_labels[2], ha='right')
put(12, 1115, 'Qura')
put(23, 1145, '2 ml/s')
put(120, 1175, b_base_labels[3], ha='right')
put(23, 1235, '2 min')
put(12, 1263, '30 s')
for lab, cx in zip(['CC', 'VB', 'MP', 'MF', 'VE'], [403, 457, 499, 635, 920]):
    put(cx, 1235, lab, ha='center')
put(195, 1263, 'Time:')
put(280, 1263, '11:30')
put(363, 1263, 'Vura')
put(497, 1263, '454 ml')
put(668, 1263, 'Vinfus')
put(802, 1263, '285 ml')
for cx in (833, 846):
    fig.add_artist(Ellipse(inch(cx, 1282), 0.11, 0.21, transform=fig.dpi_scale_trans,
                           color='#4a4a4a'))
put(861, 1291, 'DANTEC', size=15)

fig.savefig('out.png', dpi=100, facecolor='white')
